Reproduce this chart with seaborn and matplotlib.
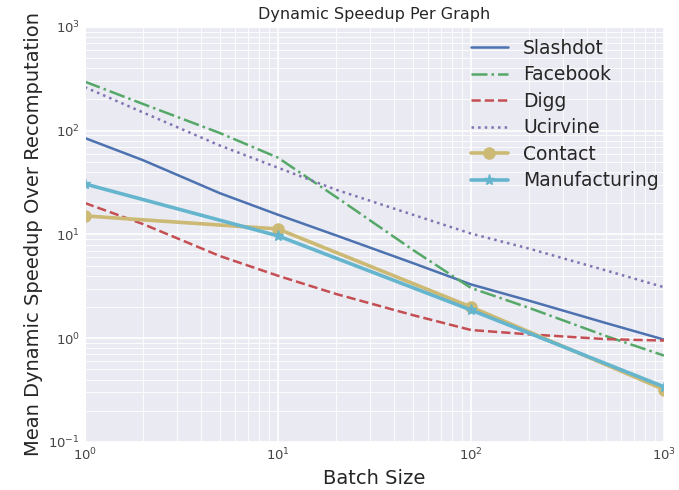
import matplotlib
matplotlib.use("Agg")
import matplotlib.pyplot as plt
import seaborn as sns

# Batch sizes at which speedups were measured
batch_sizes = [1, 2, 5, 10, 20, 50, 100, 200, 500, 1000]
coarse_batch_sizes = [1, 10, 100, 1000]

# Mean dynamic speedup over recomputation per graph
slashdot = [85, 52, 25, 15.5, 9.8, 5.3, 3.3, 2.3, 1.4, 0.97]
facebook = [297, 181, 95, 55, 23, 7.1, 3.05, 1.96, 1.05, 0.68]
digg = [20.1, 12.6, 6.2, 4.0, 2.67, 1.67, 1.2, 1.09, 0.98, 0.95]
ucirvine = [263, 150, 72, 44, 27, 15.5, 10.2, 7.3, 4.5, 3.1]
contact = [15.1, 11.3, 2.0, 0.32]
manufacturing = [30.7, 9.7, 1.87, 0.34]

labels = ["Slashdot", "Facebook", "Digg", "Ucirvine", "Contact", "Manufacturing"]
colors = ["#4C72B0", "#55A868", "#C44E52", "#8172B2", "#CCB974", "#64B5CD"]

sns.set_style("darkgrid")
plt.rcParams["font.family"] = ["DejaVu Sans"]

fig = plt.figure(figsize=(6.79, 4.90), dpi=100)
ax = fig.add_axes([0.125, 0.098, 0.853, 0.847])

series = [
    (batch_sizes, slashdot, dict(linestyle="-", linewidth=1.8)),
    (batch_sizes, facebook, dict(linestyle="-.", linewidth=1.8)),
    (batch_sizes, digg, dict(linestyle="--", linewidth=1.8)),
    (batch_sizes, ucirvine, dict(linestyle=":", linewidth=1.8)),
    (coarse_batch_sizes, contact, dict(linestyle="-", linewidth=2.6, marker="o", markersize=8)),
    (coarse_batch_sizes, manufacturing, dict(linestyle="-", linewidth=2.6, marker="*", markersize=8)),
]

for (xs, ys, style), label, color in zip(series, labels, colors):
    sns.lineplot(x=xs, y=ys, ax=ax, color=color, label=label,
                 estimator=None, sort=False,
                 markeredgecolor=color, markeredgewidth=1, **style)

ax.set_xscale("log")
ax.set_yscale("log")
ax.set_xlim(1, 1000)
ax.set_ylim(0.1, 1000)

ax.grid(which="major", color="white", linewidth=1.2)
ax.grid(which="minor", color="white", linewidth=0.6)
ax.tick_params(which="both", length=0)
ax.tick_params(axis="both", labelsize=9.5, colors="#444444")

ax.set_title("Dynamic Speedup Per Graph", fontsize=11.5, color="#262626")
ax.set_xlabel("Batch Size", fontsize=14, color="#262626")
ax.set_ylabel("Mean Dynamic Speedup Over Recomputation", fontsize=14, color="#262626")

ax.legend(loc="upper right", bbox_to_anchor=(1.02, 1.012), frameon=False,
          fontsize=13.5, labelspacing=0.4)

fig.savefig("out.png", dpi=100)
